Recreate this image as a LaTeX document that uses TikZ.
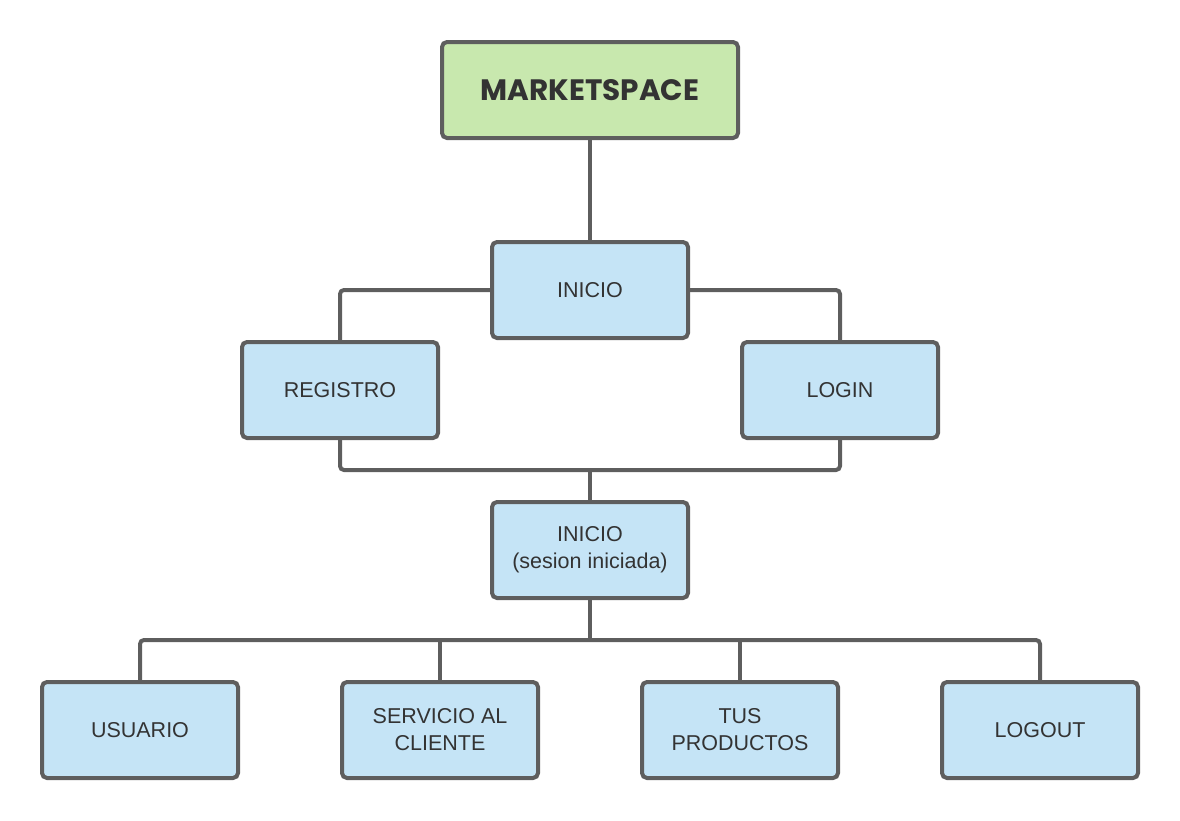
\documentclass[tikz,border=0pt]{standalone}
\usepackage{fontspec}
\setmainfont{Liberation Sans}
\newfontfamily\titlefont{Poppins}
\usetikzlibrary{positioning}
\definecolor{edgegray}{HTML}{5E5E5E}
\definecolor{boxblue}{HTML}{C5E4F6}
\definecolor{boxgreen}{HTML}{C8E8AE}
\definecolor{inkgray}{HTML}{333333}
\tikzset{
  page/.style  = {x=1pt, y=-1pt},
  screen/.style = {rectangle, rounded corners=5pt, draw=edgegray, line width=4pt,
                   fill=boxblue, minimum width=196pt, minimum height=96pt,
                   align=center, text=inkgray, font=\fontsize{21.5}{27}\selectfont},
  brand/.style  = {screen, fill=boxgreen, minimum width=296pt,
                   font=\titlefont\bfseries\fontsize{29.5}{32}\selectfont},
  link/.style   = {draw=edgegray, line width=4pt, rounded corners=4pt},
}
\begin{document}
\begin{tikzpicture}[page]
  \useasboundingbox (0,0) rectangle (1180,820);
  \node[brand] (market) at (590,90) {MARKETSPACE};
  \node[screen] (inicio) at (590,290) {INICIO};
  \node[screen] (registro) at (340,390) {REGISTRO};
  \node[screen] (login) at (840,390) {LOGIN};
  \node[screen] (sesion) at (590,550) {INICIO\\(sesion iniciada)};
  \node[screen] (usuario) at (140,730) {USUARIO};
  \node[screen] (servicio) at (440,730) {SERVICIO AL\\CLIENTE};
  \node[screen] (productos) at (740,730) {TUS\\PRODUCTOS};
  \node[screen] (logout) at (1040,730) {LOGOUT};
  \coordinate (merge) at (590,470);
  \coordinate (split) at (590,640);

  \draw[link] (market) -- (inicio);
  \draw[link] (inicio.west) -| (registro.north);
  \draw[link] (inicio.east) -| (login.north);
  \draw[link] (registro.south) |- (merge) -| (login.south);
  \draw[link] (merge) -- (sesion.north);
  \draw[link] (sesion.south) -- (split);
  \draw[link] (usuario.north) |- (split) -| (logout.north);
  \draw[link] (servicio.north) -- (servicio.north |- split);
  \draw[link] (productos.north) -- (productos.north |- split);
\end{tikzpicture}
\end{document}
